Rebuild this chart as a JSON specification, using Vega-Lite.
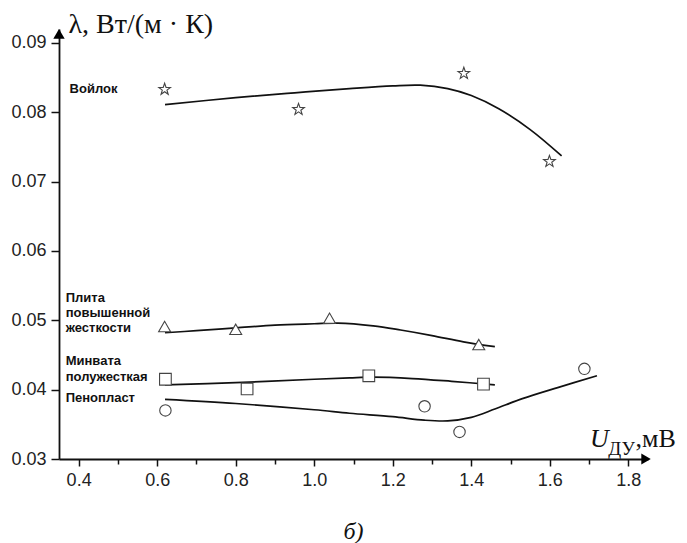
{
  "$schema": "https://vega.github.io/schema/vega-lite/v6.json",
  "width": 589,
  "height": 430,
  "autosize": "none",
  "padding": {"left": 59, "top": 29, "right": 39, "bottom": 84},
  "background": "white",
  "config": {"view": {"stroke": null}},
  "title": {"text": "б)", "orient": "bottom", "anchor": "middle", "font": "Liberation Serif", "fontStyle": "italic", "fontWeight": "normal", "fontSize": 24, "color": "#111", "offset": 31},
  "datasets": {
    "curves": [
      {"material": "Войлок", "x": 0.62, "y": 0.0811},
      {"material": "Войлок", "x": 0.80, "y": 0.0821},
      {"material": "Войлок", "x": 0.95, "y": 0.0828},
      {"material": "Войлок", "x": 1.09, "y": 0.0834},
      {"material": "Войлок", "x": 1.20, "y": 0.0838},
      {"material": "Войлок", "x": 1.27, "y": 0.0839},
      {"material": "Войлок", "x": 1.34, "y": 0.0834},
      {"material": "Войлок", "x": 1.40, "y": 0.0824},
      {"material": "Войлок", "x": 1.47, "y": 0.0805},
      {"material": "Войлок", "x": 1.55, "y": 0.0775},
      {"material": "Войлок", "x": 1.63, "y": 0.0737},
      {"material": "Плита", "x": 0.62, "y": 0.0482},
      {"material": "Плита", "x": 0.70, "y": 0.0485},
      {"material": "Плита", "x": 0.80, "y": 0.0489},
      {"material": "Плита", "x": 0.90, "y": 0.0493},
      {"material": "Плита", "x": 1.00, "y": 0.0495},
      {"material": "Плита", "x": 1.06, "y": 0.0496},
      {"material": "Плита", "x": 1.15, "y": 0.0492},
      {"material": "Плита", "x": 1.22, "y": 0.0486},
      {"material": "Плита", "x": 1.30, "y": 0.0478},
      {"material": "Плита", "x": 1.38, "y": 0.0469},
      {"material": "Плита", "x": 1.46, "y": 0.0462},
      {"material": "Минвата", "x": 0.62, "y": 0.0407},
      {"material": "Минвата", "x": 0.80, "y": 0.0410},
      {"material": "Минвата", "x": 1.00, "y": 0.0415},
      {"material": "Минвата", "x": 1.09, "y": 0.0417},
      {"material": "Минвата", "x": 1.15, "y": 0.0418},
      {"material": "Минвата", "x": 1.25, "y": 0.0416},
      {"material": "Минвата", "x": 1.35, "y": 0.0412},
      {"material": "Минвата", "x": 1.46, "y": 0.0407},
      {"material": "Пенопласт", "x": 0.62, "y": 0.0386},
      {"material": "Пенопласт", "x": 0.80, "y": 0.0380},
      {"material": "Пенопласт", "x": 1.00, "y": 0.0371},
      {"material": "Пенопласт", "x": 1.09, "y": 0.0366},
      {"material": "Пенопласт", "x": 1.20, "y": 0.0361},
      {"material": "Пенопласт", "x": 1.28, "y": 0.0356},
      {"material": "Пенопласт", "x": 1.34, "y": 0.0355},
      {"material": "Пенопласт", "x": 1.40, "y": 0.0360},
      {"material": "Пенопласт", "x": 1.46, "y": 0.0372},
      {"material": "Пенопласт", "x": 1.53, "y": 0.0387},
      {"material": "Пенопласт", "x": 1.62, "y": 0.0403},
      {"material": "Пенопласт", "x": 1.72, "y": 0.0420}
    ],
    "points": [
      {"material": "Войлок", "x": 0.619, "y": 0.0833},
      {"material": "Войлок", "x": 0.960, "y": 0.0804},
      {"material": "Войлок", "x": 1.381, "y": 0.0856},
      {"material": "Войлок", "x": 1.599, "y": 0.0729},
      {"material": "Плита", "x": 0.619, "y": 0.0491},
      {"material": "Плита", "x": 0.800, "y": 0.0487},
      {"material": "Плита", "x": 1.039, "y": 0.0503},
      {"material": "Плита", "x": 1.419, "y": 0.0465},
      {"material": "Минвата", "x": 0.621, "y": 0.0415},
      {"material": "Минвата", "x": 0.829, "y": 0.0401},
      {"material": "Минвата", "x": 1.139, "y": 0.0420},
      {"material": "Минвата", "x": 1.431, "y": 0.0408},
      {"material": "Пенопласт", "x": 0.621, "y": 0.0370},
      {"material": "Пенопласт", "x": 1.281, "y": 0.0376},
      {"material": "Пенопласт", "x": 1.370, "y": 0.0339},
      {"material": "Пенопласт", "x": 1.688, "y": 0.0430}
    ],
    "labels": [
      {"text": "Войлок", "x": 0.377, "y": 0.0833},
      {"text": "Плита", "x": 0.367, "y": 0.0532},
      {"text": "повышенной", "x": 0.367, "y": 0.0511},
      {"text": "жесткости", "x": 0.367, "y": 0.0489},
      {"text": "Минвата", "x": 0.367, "y": 0.0442},
      {"text": "полужесткая", "x": 0.367, "y": 0.0418},
      {"text": "Пенопласт", "x": 0.367, "y": 0.0388}
    ],
    "one": [{}]
  },
  "layer": [
    {
      "data": {"name": "curves"},
      "mark": {"type": "line", "interpolate": "catmull-rom", "color": "#111", "strokeWidth": 1.7},
      "encoding": {
        "x": {"field": "x", "type": "quantitative",
          "scale": {"domain": [0.35, 1.85], "nice": false, "zero": false},
          "axis": {
            "title": null, "grid": false,
            "values": [0.4, 0.5, 0.6, 0.7, 0.8, 0.9, 1.0, 1.1, 1.2, 1.3, 1.4, 1.5, 1.6, 1.7, 1.8],
            "labelExpr": "round(datum.value*10)%2==0 ? format(datum.value,'.1f') : ''",
            "tickSize": {"condition": {"test": "round(datum.value*10)%2==0", "value": 7}, "value": 5},
            "tickColor": "#111", "tickWidth": 1.5,
            "domainColor": "#111", "domainWidth": 1.8,
            "labelFont": "Liberation Sans", "labelFontSize": 18, "labelColor": "#222",
            "labelPadding": 5, "labelOverlap": false, "labelFlush": false
          }
        },
        "y": {"field": "y", "type": "quantitative",
          "scale": {"domain": [0.03, 0.092], "nice": false, "zero": false},
          "axis": {
            "title": "λ, Вт/(м · К)", "grid": false,
            "values": [0.03, 0.035, 0.04, 0.045, 0.05, 0.055, 0.06, 0.065, 0.07, 0.075, 0.08, 0.085, 0.09],
            "labelExpr": "round(datum.value*200)%2==0 ? format(datum.value,'.2f') : ''",
            "tickSize": {"condition": {"test": "round(datum.value*200)%2==0", "value": 8}, "value": 5},
            "tickColor": "#111", "tickWidth": 1.5,
            "domainColor": "#111", "domainWidth": 1.8,
            "labelFont": "Liberation Sans", "labelFontSize": 18, "labelColor": "#222",
            "labelPadding": 5, "labelOverlap": false, "labelFlush": false,
            "titleAngle": 0, "titleX": 9, "titleY": 3, "titleAlign": "left", "titleBaseline": "alphabetic",
            "titleFont": "Liberation Serif", "titleFontSize": 28, "titleFontWeight": "normal", "titleColor": "#111"
          }
        },
        "detail": {"field": "material", "type": "nominal"}
      }
    },
    {
      "data": {"name": "points"},
      "mark": {"type": "point", "filled": false, "fill": "white", "stroke": "#444", "strokeWidth": 1.1, "opacity": 1},
      "encoding": {
        "x": {"field": "x", "type": "quantitative"},
        "y": {"field": "y", "type": "quantitative"},
        "shape": {"field": "material", "type": "nominal", "legend": null,
          "scale": {"domain": ["Войлок", "Плита", "Минвата", "Пенопласт"],
            "range": ["M0,-1L0.235,-0.324L0.951,-0.309L0.380,0.124L0.588,0.809L0,0.4L-0.588,0.809L-0.380,0.124L-0.951,-0.309L-0.235,-0.324Z", "triangle-up", "square", "circle"]}},
        "size": {"field": "material", "type": "ordinal", "legend": null,
          "scale": {"domain": ["Войлок", "Плита", "Минвата", "Пенопласт"], "range": [150, 130, 85, 85]}}
      }
    },
    {
      "data": {"name": "labels"},
      "mark": {"type": "text", "align": "left", "baseline": "middle", "font": "Liberation Sans", "fontWeight": "bold", "fontSize": 13, "color": "#111"},
      "encoding": {
        "x": {"field": "x", "type": "quantitative"},
        "y": {"field": "y", "type": "quantitative"},
        "text": {"field": "text"}
      }
    },
    {
      "data": {"name": "one"},
      "mark": {"type": "point", "shape": "triangle-up", "filled": true, "color": "#000", "size": 130, "opacity": 1},
      "encoding": {"x": {"datum": 0.35}, "y": {"datum": 0.0913}}
    },
    {
      "data": {"name": "one"},
      "mark": {"type": "point", "shape": "triangle-right", "filled": true, "color": "#000", "size": 120, "opacity": 1},
      "encoding": {"x": {"datum": 1.845}, "y": {"datum": 0.03}}
    },
    {
      "data": {"name": "one"},
      "mark": {"type": "text", "text": "U", "align": "left", "baseline": "alphabetic", "font": "Liberation Serif", "fontStyle": "italic", "fontSize": 26, "color": "#111"},
      "encoding": {"x": {"datum": 1.7023}, "y": {"datum": 0.03177}}
    },
    {
      "data": {"name": "one"},
      "mark": {"type": "text", "text": "ДУ", "align": "left", "baseline": "alphabetic", "font": "Liberation Serif", "fontSize": 19, "color": "#111"},
      "encoding": {"x": {"datum": 1.749}, "y": {"datum": 0.03058}}
    },
    {
      "data": {"name": "one"},
      "mark": {"type": "text", "text": ",мВ", "align": "left", "baseline": "alphabetic", "font": "Liberation Serif", "fontSize": 26, "color": "#111"},
      "encoding": {"x": {"datum": 1.818}, "y": {"datum": 0.03177}}
    }
  ]
}
